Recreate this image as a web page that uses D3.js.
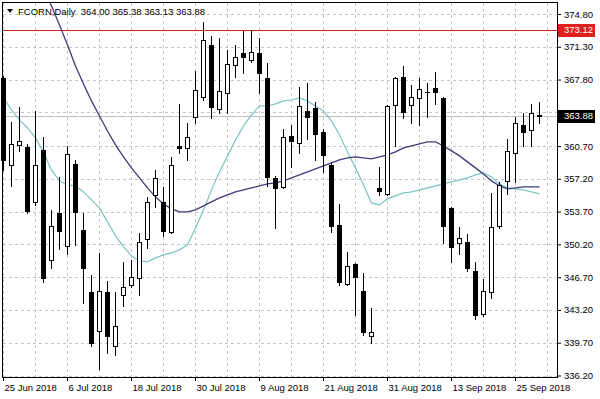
<!DOCTYPE html>
<html>
<head>
<meta charset="utf-8">
<script src="https://cdn.jsdelivr.net/npm/d3@7"></script>
<style>
body { margin: 0; background: #fff; }
text { font-family: "Liberation Sans", Arial, sans-serif; }
</style>
</head>
<body>
<svg id="chart" width="600" height="399"></svg>
<script>
// FCORN daily candles, 25 Jun - 28 Sep 2018 (bar index 0..67)
const opens = [367.97, 358.69, 360.82, 360.61, 354.74, 360.29, 348.55, 353.56, 350.04, 358.79,
  351.75, 345.13, 340.97, 345.13, 339.37, 344.81, 345.88, 346.63, 350.79, 355.48,
  354.74, 351.54, 360.71, 360.50, 363.81, 365.94, 371.49, 364.66, 366.37, 369.36,
  370.64, 369.89, 370.64, 367.97, 357.30, 356.34, 361.78, 361.03, 364.45, 364.77,
  362.21, 358.69, 352.28, 345.99, 348.12, 345.24, 340.44, 356.23, 355.59, 365.09,
  368.08, 365.09, 365.84, 366.50, 366.90, 365.84, 354.10, 350.36, 350.47, 347.37,
  342.78, 345.13, 352.18, 356.98, 359.97, 362.95, 362.42, 364.00];
const highs = [368.18, 363.27, 364.88, 360.90, 364.45, 361.67, 353.88, 357.40, 360.71, 359.22,
  353.56, 346.95, 349.29, 346.31, 345.13, 348.33, 348.55, 351.43, 355.27, 358.15,
  356.34, 359.54, 365.20, 363.17, 368.72, 373.95, 372.45, 372.24, 370.96, 371.49,
  372.99, 373.09, 372.24, 369.57, 357.51, 362.53, 362.95, 367.01, 367.44, 365.41,
  362.53, 358.90, 354.52, 349.40, 348.20, 347.16, 343.42, 358.47, 365.10, 368.10,
  369.25, 367.22, 367.97, 367.44, 368.61, 365.90, 354.20, 352.07, 351.32, 348.33,
  346.52, 355.70, 356.87, 361.46, 363.81, 364.23, 365.20, 365.38];
const lows = [358.15, 356.44, 360.18, 353.56, 354.42, 346.20, 347.69, 349.72, 349.19, 350.15,
  343.96, 339.37, 336.91, 338.62, 338.41, 343.64, 345.67, 344.81, 349.83, 354.20,
  351.11, 351.43, 359.97, 359.22, 363.17, 365.62, 363.70, 364.23, 364.23, 368.08,
  368.50, 369.68, 366.37, 356.44, 351.96, 356.23, 358.47, 359.97, 361.46, 359.22,
  357.94, 351.54, 345.88, 345.88, 342.68, 340.54, 339.69, 355.48, 355.50, 360.71,
  363.70, 363.17, 362.95, 363.81, 365.20, 350.36, 348.33, 349.19, 347.37, 342.25,
  342.57, 344.49, 351.96, 355.59, 356.87, 360.71, 360.71, 363.13];
const closes = [359.22, 360.93, 361.25, 353.78, 358.69, 346.63, 352.18, 351.64, 359.86, 353.67,
  347.69, 339.69, 345.24, 340.44, 341.50, 345.67, 346.73, 350.47, 354.74, 357.30,
  351.64, 358.69, 360.50, 361.67, 366.69, 372.03, 364.88, 366.58, 369.46, 370.21,
  370.21, 370.74, 368.50, 357.40, 356.23, 361.67, 361.25, 364.98, 363.81, 361.99,
  359.75, 352.18, 346.20, 347.91, 346.73, 340.86, 340.86, 355.91, 364.98, 367.97,
  364.34, 365.94, 366.80, 366.45, 366.48, 352.18, 349.93, 350.89, 347.69, 342.68,
  345.24, 352.07, 356.55, 360.18, 363.17, 362.21, 364.23, 363.88];

// moving averages as drawn on the chart
const ma_fast = [365.84, 364.55, 363.49, 362.63, 361.57, 360.07, 358.15, 356.98, 356.55, 356.44,
  355.80, 354.95, 354.10, 352.60, 351.11, 349.93, 348.97, 348.44, 348.33, 348.76,
  349.08, 349.29, 349.61, 350.15, 351.96, 353.88, 356.02, 357.94, 359.65, 361.35,
  362.85, 364.02, 364.98, 364.98, 365.20, 365.52, 365.62, 365.84, 365.52, 364.98,
  364.45, 363.38, 361.89, 360.07, 358.37, 356.55, 354.63, 354.42, 355.06, 355.38,
  355.70, 355.80, 356.02, 356.23, 356.44, 356.66, 356.87, 357.08, 357.30, 357.62,
  357.83, 357.40, 356.66, 356.23, 356.12, 356.02, 355.80, 355.59];
const ma_slow = [null, null, null, null, 379.50, 377.57, 375.65, 373.63, 371.49, 369.25,
  367.33, 365.52, 363.91, 362.31, 360.82, 359.54, 358.37, 357.30, 356.23, 355.27,
  354.52, 353.99, 353.67, 353.67, 353.88, 354.31, 354.74, 355.16, 355.48, 355.80,
  356.02, 356.23, 356.44, 356.66, 356.76, 356.98, 357.30, 357.62, 357.94, 358.26,
  358.58, 358.90, 359.22, 359.43, 359.54, 359.43, 359.33, 359.54, 359.75, 360.07,
  360.50, 360.71, 360.93, 361.14, 361.14, 360.71, 360.18, 359.65, 359.01, 358.37,
  357.72, 356.98, 356.44, 356.12, 356.23, 356.34, 356.34, 356.34];

const date_ticks = [0, 8, 16, 24, 32, 40, 48, 56, 64];
const date_labels = ['25 Jun 2018', '6 Jul 2018', '18 Jul 2018', '30 Jul 2018', '9 Aug 2018',
  '21 Aug 2018', '31 Aug 2018', '13 Sep 2018', '25 Sep 2018'];
const price_ticks = [374.80, 371.30, 367.80, 364.30, 360.70, 357.20, 353.70, 350.20, 346.70, 343.20, 339.70, 336.20];
const grid_cols = d3.range(0, 69, 4);
const level_price = 373.12;
const last_price = 363.88;
const title = 'FCORN,Daily  364.00 365.38 363.13 363.88';

const svg = d3.select('#chart');
const plot = {left: 3, right: 557, top: 3, bottom: 377};

const x = d3.scaleLinear().domain([0, 68]).range([3, 547]);
const y = d3.scaleLinear().domain([336.2, 374.8]).range([375.5, 14]);
const px = v => Math.round(v) + 0.5;

svg.append('clipPath').attr('id', 'plot-clip')
  .append('rect')
    .attr('x', plot.left).attr('y', plot.top)
    .attr('width', plot.right - plot.left).attr('height', plot.bottom - plot.top);

// grid
const grid = svg.append('g').attr('stroke', '#c6c6c6').attr('stroke-dasharray', '3,3');
grid.selectAll('.vg').data(grid_cols).enter().append('line')
  .attr('x1', d => px(x(d))).attr('x2', d => px(x(d)))
  .attr('y1', plot.top).attr('y2', plot.bottom);
grid.selectAll('.hg').data(price_ticks).enter().append('line')
  .attr('y1', d => px(y(d))).attr('y2', d => px(y(d)))
  .attr('x1', plot.left).attr('x2', plot.right);

// bid line and red level
svg.append('line')
  .attr('x1', plot.left).attr('x2', plot.right)
  .attr('y1', px(y(last_price))).attr('y2', px(y(last_price)))
  .attr('stroke', '#c0c0c0');
svg.append('line')
  .attr('x1', plot.left).attr('x2', plot.right)
  .attr('y1', px(y(level_price))).attr('y2', px(y(level_price)))
  .attr('stroke', '#d42020');

// moving averages
const ma_line = d3.line()
  .defined(d => d != null)
  .x((d, i) => x(i) + 0.5)
  .y(d => y(d));
const ma_grp = svg.append('g').attr('clip-path', 'url(#plot-clip)').attr('fill', 'none');
ma_grp.append('path').attr('d', ma_line(ma_fast))
  .attr('stroke', '#7cc3c6').attr('stroke-width', 1.2);
ma_grp.append('path').attr('d', ma_line(ma_slow))
  .attr('stroke', '#3d3b7c').attr('stroke-width', 1.3);

// candles
const bars = d3.range(opens.length);
const candles = svg.append('g');
candles.selectAll('.wick').data(bars).enter().append('line')
  .attr('x1', i => px(x(i))).attr('x2', i => px(x(i)))
  .attr('y1', i => Math.round(y(highs[i]))).attr('y2', i => Math.round(y(lows[i])) + 1)
  .attr('stroke', '#000');
candles.selectAll('.body').data(bars).enter().append('rect')
  .each(function(i){
    const col = Math.round(x(i));
    const top = Math.round(y(Math.max(opens[i], closes[i])));
    const bot = Math.round(y(Math.min(opens[i], closes[i])));
    const up = closes[i] > opens[i];
    const r = d3.select(this);
    if (up) {
      r.attr('x', col - 1.5).attr('y', top + 0.5)
        .attr('width', 4).attr('height', Math.max(1, bot - top))
        .attr('fill', '#fff').attr('stroke', '#000');
    } else {
      r.attr('x', col - 2).attr('y', top)
        .attr('width', 5).attr('height', Math.max(1, bot - top + 1))
        .attr('fill', '#000');
    }
  });

// frame
svg.append('rect')
  .attr('x', plot.left - 0.5).attr('y', plot.top - 0.5)
  .attr('width', plot.right - plot.left + 1).attr('height', plot.bottom - plot.top + 1)
  .attr('fill', 'none').attr('stroke', '#000');

// axes
const x_axis = svg.append('g')
  .attr('transform', `translate(0,${plot.bottom})`)
  .call(d3.axisBottom(x).tickValues(date_ticks).tickSize(4).tickSizeOuter(0)
    .tickFormat((d, i) => date_labels[i]));
x_axis.select('.domain').remove();
x_axis.selectAll('text').attr('text-anchor', 'start').attr('x', 1)
  .style('font-size', '9.5px').attr('fill', '#000');

const y_axis = svg.append('g')
  .attr('transform', `translate(${plot.right},0)`)
  .call(d3.axisRight(y).tickValues(price_ticks).tickSize(4).tickSizeOuter(0)
    .tickFormat(d3.format('.2f')));
y_axis.select('.domain').remove();
y_axis.selectAll('text').style('font-size', '9.5px').attr('fill', '#000');

// price labels on the right
const tag = function(price, bg){
  const yy = Math.round(y(price));
  svg.append('rect')
    .attr('x', plot.right + 1).attr('y', yy - 6)
    .attr('width', 37).attr('height', 13).attr('fill', bg);
  svg.append('text')
    .attr('x', plot.right + 7).attr('y', yy).attr('dy', '0.35em')
    .attr('fill', '#fff').style('font-size', '9.5px').text(price.toFixed(2));
};
tag(level_price, '#e0201c');
tag(last_price, '#000');

// title
svg.append('path').attr('d', 'M7,9H13L10,13Z').attr('fill', '#000');
svg.append('text').attr('x', 18).attr('y', 15)
  .style('font-size', '9.5px').attr('fill', '#000').attr('xml:space', 'preserve')
  .text(title);
</script>
</body>
</html>
